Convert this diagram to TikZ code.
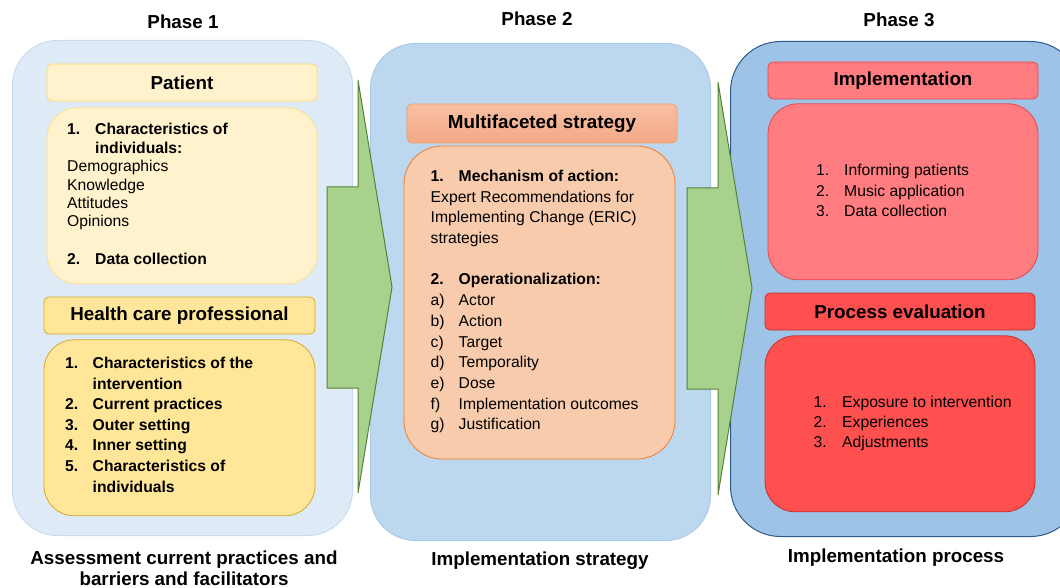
\documentclass[tikz,border=0pt]{standalone}
\usepackage{fontspec}
\setmainfont{Liberation Sans}
\usetikzlibrary{positioning}

\definecolor{phaseone}{HTML}{DEEBF7}
\definecolor{phaseoneline}{HTML}{C7DBF0}
\definecolor{phasetwo}{HTML}{BDD7EE}
\definecolor{phasetwoline}{HTML}{A9CBEA}
\definecolor{phasethree}{HTML}{9DC3E6}
\definecolor{phasethreeline}{HTML}{2E5A87}
\definecolor{patfill}{HTML}{FFF2CC}
\definecolor{patline}{HTML}{FFD966}
\definecolor{hcpfill}{HTML}{FFE699}
\definecolor{hcpline}{HTML}{D4A82A}
\definecolor{strfill}{HTML}{F8CBAD}
\definecolor{strline}{HTML}{ED7D31}
\definecolor{strtop}{HTML}{F7C0A3}
\definecolor{strbot}{HTML}{F4A987}
\definecolor{impfill}{HTML}{FF7C80}
\definecolor{impline}{HTML}{E8474D}
\definecolor{evalfill}{HTML}{FF5050}
\definecolor{evalline}{HTML}{C53030}
\definecolor{arrowfill}{HTML}{A9D18E}
\definecolor{arrowline}{HTML}{548235}

\begin{document}
\begin{tikzpicture}[x=1pt,y=-1pt,
	phase/.style={draw, rounded corners=45pt, line width=1pt, minimum height=495pt, inner sep=0pt, anchor=north west},
	hdr/.style={draw, rounded corners=5pt, line width=0.8pt, minimum width=270pt, minimum height=37pt, inner sep=0pt, font=\bfseries\fontsize{18.8}{21}\selectfont},
	body/.style={draw, rounded corners=30pt, line width=0.8pt, minimum width=270pt, minimum height=176pt, inner sep=0pt},
	lst/.style={anchor=base west, inner sep=0pt},
	ttl/.style={anchor=base, inner sep=0pt, font=\bfseries\fontsize{18.8}{21}\selectfont},
	blk/.style={fill=arrowfill, draw=arrowline, line width=1pt, line join=miter}]
			\useasboundingbox (0,0) rectangle (1060,588);
			\clip (0,0) rectangle (1060,588);

			% phases
			\node[phase, fill=phaseone, draw=phaseoneline, minimum width=340pt] (p1) at (12,40) {};
			\node[phase, fill=phasetwo, draw=phasetwoline, minimum width=340pt, minimum height=497pt] (p2) at (370,43) {};
			\node[phase, fill=phasethree, draw=phasethreeline, minimum width=350pt, rounded corners=50pt] (p3) at (730,41) {};

			\node[ttl] (t1) at (183,29) {Phase 1};
			\node[ttl] (t2) at (537,26) {Phase 2};
			\node[ttl] (t3) at (899,27) {Phase 3};
			\node[ttl] (b1) at (184,564) {\begin{tabular}[t]{@{}c@{}}Assessment current practices and\\barriers and facilitators\end{tabular}};
			\node[ttl] (b2) at (540,565) {Implementation strategy};
			\node[ttl] (b3) at (896,562) {Implementation process};

			% phase 1
			\node[hdr, fill=patfill, draw=patline] (pat) at (182,82.5) {Patient};
			\node[body, fill=patfill, draw=patline!70!patfill] (patb) [below=6pt of pat] {};
			\node[lst, font=\fontsize{15.7}{18.4}\selectfont] (patl) at (67,135) {\begin{tabular}[t]{@{}p{28pt}@{}l@{}}
				\textbf{1.} & \textbf{Characteristics of}\\
				 & \textbf{individuals:}\\
				\multicolumn{2}{@{}l@{}}{Demographics}\\
				\multicolumn{2}{@{}l@{}}{Knowledge}\\
				\multicolumn{2}{@{}l@{}}{Attitudes}\\
				\multicolumn{2}{@{}l@{}}{Opinions}\\[1pt]
				 & \\
				\textbf{2.} & \textbf{Data collection}
			\end{tabular}};
			\node[hdr, fill=hcpfill, draw=hcpline, minimum width=271pt] (hcp) at (179.5,315.5) {Health care professional};
			\node[body, fill=hcpfill, draw=hcpline, minimum width=271pt] (hcpb) [below=5pt of hcp] {};
			\node[lst, font=\bfseries\fontsize{15.7}{20.6}\selectfont] (hcpl) at (65,368.5) {\begin{tabular}[t]{@{}p{27.5pt}@{}l@{}}
				1. & Characteristics of the\\
				 & intervention\\
				2. & Current practices\\
				3. & Outer setting\\
				4. & Inner setting\\
				5. & Characteristics of\\
				 & individuals
			\end{tabular}};

			% phase 2
			\node[hdr, top color=strtop, bottom color=strbot, draw=strline!60!strfill, minimum height=39pt] (str) at (542,123.5) {Multifaceted strategy};
			\node[body, fill=strfill, draw=strline, minimum width=271pt, minimum height=313pt, rounded corners=38pt] (strb) at (539.5,302.5) {};
			\node[lst, font=\fontsize{15.7}{20.7}\selectfont] (strl) at (430.5,181.5) {\begin{tabular}[t]{@{}p{28pt}@{}l@{}}
				\textbf{1.} & \textbf{Mechanism of action:}\\
				\multicolumn{2}{@{}l@{}}{Expert Recommendations for}\\
				\multicolumn{2}{@{}l@{}}{Implementing Change (ERIC)}\\
				\multicolumn{2}{@{}l@{}}{strategies}\\
				 & \\
				\textbf{2.} & \textbf{Operationalization:}\\
				a) & Actor\\
				b) & Action\\
				c) & Target\\
				d) & Temporality\\
				e) & Dose\\
				f) & Implementation outcomes\\
				g) & Justification
			\end{tabular}};

			% phase 3
			\node[hdr, fill=impfill, draw=impline] (imp) at (903,80.5) {Implementation};
			\node[body, fill=impfill, draw=impline] (impb) [below=4pt of imp] {};
			\node[lst, font=\fontsize{15.7}{20.5}\selectfont] (impl) at (816,176) {\begin{tabular}[t]{@{}p{28pt}@{}l@{}}
				1. & Informing patients\\
				2. & Music application\\
				3. & Data collection
			\end{tabular}};
			\node[hdr, fill=evalfill, draw=evalline] (eval) at (900,311.5) {Process evaluation};
			\node[body, fill=evalfill, draw=evalline] (evalb) [below=5pt of eval] {};
			\node[lst, font=\fontsize{15.7}{20.4}\selectfont] (evall) at (813.5,407) {\begin{tabular}[t]{@{}p{28.5pt}@{}l@{}}
				1. & Exposure to intervention\\
				2. & Experiences\\
				3. & Adjustments
			\end{tabular}};

			% block arrows between the phases
			\draw[blk] (327,187) -- (358,187) -- (358,80) -- (392,287) -- (358,493) -- (358,388) -- (327,388) -- cycle;
			\draw[blk] (687,188) -- (718,188) -- (718,82) -- (752,288) -- (718,495) -- (718,389) -- (687,389) -- cycle;
		\end{tikzpicture}
\end{document}
